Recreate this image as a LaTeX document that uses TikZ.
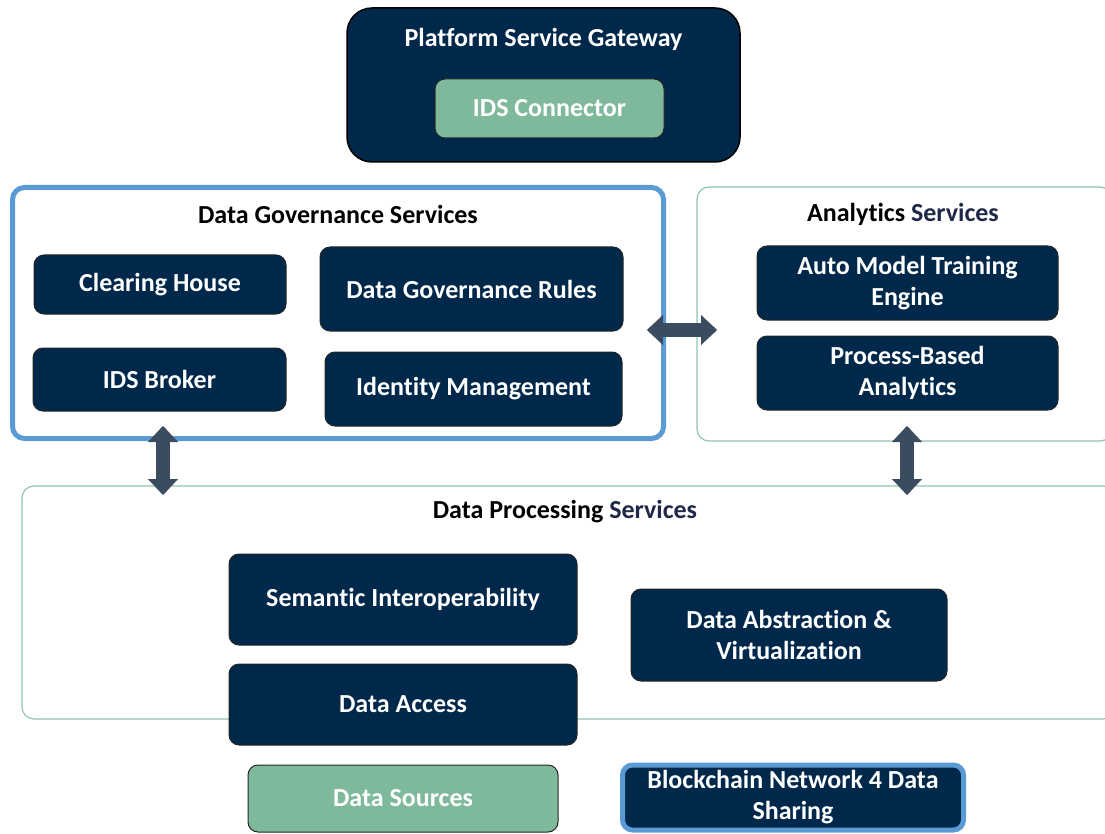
\documentclass[tikz,border=0pt]{standalone}
\usepackage{fontspec}
\setmainfont{Carlito}[Ligatures=NoCommon]
\usetikzlibrary{arrows.meta}

\definecolor{navy}{RGB}{0,40,74}
\definecolor{sgreen}{RGB}{127,185,155}
\definecolor{bblue}{RGB}{91,155,213}
\definecolor{lgreen}{RGB}{142,198,170}
\definecolor{arrowc}{RGB}{59,76,96}
\definecolor{subtitle}{RGB}{32,40,72}

\begin{document}
\begin{tikzpicture}[x=1pt,y=-1pt,
  lbl/.style={font=\bfseries\fontsize{26}{31}\selectfont, align=center},
  navybox/.style={lbl, draw=black!85, line width=1, fill=navy, text=white,
    rounded corners=10, inner sep=0},
  greenbox/.style={navybox, fill=sgreen},
  outerblue/.style={draw=bblue, line width=5, rounded corners=12, inner sep=0},
  outergreen/.style={draw=lgreen, line width=1.2, rounded corners=12, inner sep=0},
  title/.style={lbl, text=black},
  biarrow/.style={draw=arrowc, line width=14,
    {Triangle[width=30,length=16,line width=0.1]}-{Triangle[width=30,length=16,line width=0.1]}}
]
\useasboundingbox (0,0) rectangle (1105,834);

% Gateway
\node[navybox, line width=1.5, draw=black, rounded corners=25,
      minimum width=393, minimum height=154] (gw) at (543.5,85) {};
\node[lbl, text=white] (gwt) at (543.5,39) {Platform Service Gateway};
\node[greenbox, minimum width=229, minimum height=59] (ids) at (549.5,108.5) {IDS Connector};

% Data governance services
\node[outerblue, minimum width=651, minimum height=251] (dg) at (338,313) {};
\node[title] (dgt) at (338,214) {Data Governance Services};
\node[navybox, minimum width=252, minimum height=59] (ch) at (160,284.5) {Clearing House};
\node[navybox, minimum width=303, minimum height=84] (dgr) at (471.5,289) {Data Governance Rules};
\node[navybox, minimum width=253, minimum height=63] (brk) at (159.5,379.5) {IDS Broker};
\node[navybox, minimum width=297, minimum height=74] (idm) at (473.5,389) {Identity Management};

% Analytics services
\node[outergreen, minimum width=415, minimum height=254] (an) at (904.5,314) {};
\node[title] (ant) at (903,214) {Analytics \textcolor{subtitle}{Services}};
\node[navybox, minimum width=301, minimum height=74] (amt) at (907.5,283) {Auto Model Training\\Engine};
\node[navybox, minimum width=301, minimum height=74] (pba) at (907.5,373) {Process-Based\\Analytics};

% Data processing services
\node[outergreen, minimum width=1093, minimum height=233] (dp) at (568.5,602.5) {};
\node[title] (dpt) at (565,512) {Data Processing \textcolor{subtitle}{Services}};
\node[navybox, minimum width=348, minimum height=91] (si) at (403,599.5) {Semantic Interoperability};
\node[navybox, minimum width=316, minimum height=92] (dav) at (789,635) {Data Abstraction \&\\Virtualization};
\node[navybox, minimum width=348, minimum height=81] (da) at (403,704.5) {Data Access};

% Bottom row
\node[greenbox, minimum width=310, minimum height=67] (ds) at (403,798.5) {Data Sources};
\node[navybox, draw=bblue, line width=5, minimum width=341, minimum height=65] (bc) at (793,797.5) {Blockchain Network 4 Data\\Sharing};

% Two-way connectors between the service groups
\coordinate (hl) at (647,330);
\coordinate (hr) at (717,330);
\coordinate (lt) at (163,426);
\coordinate (lb) at (163,495);
\coordinate (rt) at (907,426);
\coordinate (rb) at (907,495);
\draw[biarrow] (hl) -- (hr);
\draw[biarrow] (lt) -- (lb);
\draw[biarrow] (rt) -- (rb);
\end{tikzpicture}
\end{document}
